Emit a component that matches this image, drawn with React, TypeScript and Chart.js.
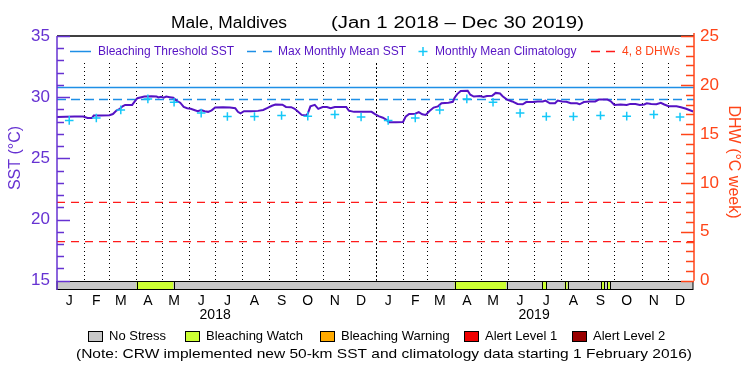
import React, { useEffect, useRef } from "react";
import { Chart, registerables } from "chart.js";

Chart.register(...registerables);

// ---------------- DATA ----------------
const monthLetters = ["J", "F", "M", "A", "M", "J", "J", "A", "S", "O", "N", "D"];
const years = [2018, 2019];
// Monthly mean climatology (°C), Jan..Dec
const climatology = [28.1, 28.3, 28.96, 29.86, 29.58, 28.7, 28.42, 28.42, 28.5, 28.45, 28.58, 28.38];
// Days since Jan 1 2018 and SST (°C)
const sstDays = [
  0, 10, 20, 30, 35, 40, 42, 50, 60, 64, 68, 72, 75, 78, 86, 89, 92, 100, 108, 114,
  116, 119, 122, 125, 129, 133, 137, 141, 145, 149, 153, 157, 161, 165, 169, 173, 177, 181, 190, 198,
  204, 207, 210, 214, 222, 230, 236, 241, 246, 250, 258, 262, 268, 272, 276, 280, 285, 287, 290, 295,
  299, 304, 309, 313, 318, 325, 331, 334, 340, 350, 360, 364, 368, 373, 377, 380, 388, 396, 399, 403,
  410, 414, 418, 422, 426, 431, 436, 440, 448, 453, 455, 458, 462, 470, 473, 477, 484, 488, 492, 498,
  502, 507, 510, 515, 521, 527, 533, 537, 545, 550, 556, 559, 564, 570, 573, 578, 583, 588, 595, 598,
  603, 609, 616, 620, 630, 634, 638, 645, 652, 656, 662, 667, 672, 675, 680, 686, 691, 695, 700, 709,
  714, 720, 728,
];
const sstValues = [
  28.38, 28.4, 28.42, 28.42, 28.3, 28.3, 28.5, 28.5, 28.52, 28.62, 28.9, 29.05, 29.25, 29.37, 29.37, 29.65, 29.92, 30.05, 30.07, 30.05,
  29.98, 30.04, 29.96, 30.05, 30.0, 29.95, 29.7, 29.55, 29.2, 29.1, 29.05, 28.95, 28.85, 28.95, 28.85, 28.8, 28.92, 29.15, 29.18, 29.15,
  29.1, 28.8, 28.68, 28.85, 28.85, 28.88, 28.95, 29.12, 29.3, 29.4, 29.38, 29.2, 29.18, 29.05, 28.8, 28.55, 28.5, 28.65, 29.25, 29.37,
  29.05, 29.2, 29.2, 29.1, 29.2, 29.2, 29.2, 28.9, 28.8, 28.8, 28.8, 28.62, 28.45, 28.32, 28.15, 27.95, 27.95, 27.97, 28.4, 28.62,
  28.65, 28.78, 28.6, 28.55, 28.85, 29.15, 29.25, 29.5, 29.55, 29.62, 29.95, 30.25, 30.5, 30.52, 30.2, 30.05, 30.1, 30.02, 30.1, 30.12,
  30.35, 30.3, 30.08, 29.8, 29.65, 29.45, 29.42, 29.6, 29.6, 29.65, 29.65, 29.72, 29.5, 29.5, 29.72, 29.65, 29.62, 29.5, 29.5, 29.42,
  29.6, 29.65, 29.65, 29.8, 29.8, 29.65, 29.37, 29.4, 29.37, 29.45, 29.45, 29.37, 29.4, 29.5, 29.45, 29.43, 29.54, 29.4, 29.26, 29.26,
  29.18, 29.05, 28.83,
];
const thresholdSST = 30.8;
const mmmSST = 29.8;
const dhwLevels = [4, 8];
// Bleaching Watch periods (days since Jan 1 2018)
const watchStarts = [91, 455, 555, 581, 623, 630];
const watchEnds = [133, 514, 560, 584, 627, 633];
const sstTicks = [15, 20, 25, 30, 35];
const dhwTicks = [0, 5, 10, 15, 20, 25];
const stressLabels = ["No Stress", "Bleaching Watch", "Bleaching Warning", "Alert Level 1", "Alert Level 2"];
const titleText = "Male, Maldives";
const dateRangeText = "(Jan 1 2018 \u2013 Dec 30 2019)";
const noteText = "(Note: CRW implemented new 50-km SST and climatology data starting 1 February 2016)";

// ---------------- STYLE ----------------
const PURPLE = "#5512c4";
const AXIS_PURPLE = "#6632d2";
const ORANGE = "#ff4418";
const BLUE = "#1e8fe6";
const CYAN = "#14c8f8";
const RED = "#ff1a1a";
const stressColors = ["#c8c8c8", "#ccff33", "#ffaa00", "#ee0000", "#990000"];
const FONT = "'Liberation Sans', Arial, sans-serif";

const START = Date.UTC(2018, 0, 1);
const dayOf = (y: number, m: number, d: number) => Math.round((Date.UTC(y, m, d) - START) / 86400000);
const X_MAX = 729;
const monthStarts: number[] = [];
const monthMids: number[] = [];
years.forEach((yr) => {
  for (let m = 0; m < 12; m++) {
    monthStarts.push(dayOf(yr, m, 1));
    monthMids.push(dayOf(yr, m, 15));
  }
});
const yearStarts = years.map((yr) => dayOf(yr, 0, 1));
const yearMids = years.map((yr) => dayOf(yr, 6, 1));

// draws text stretched horizontally to a given width (left aligned at x)
function fitText(ctx: CanvasRenderingContext2D, text: string, x: number, y: number, width: number) {
  const w = ctx.measureText(text).width;
  const k = width / w;
  ctx.save();
  ctx.textAlign = "left";
  ctx.translate(x, y);
  ctx.scale(k, 1);
  ctx.fillText(text, 0, 0);
  ctx.restore();
}

const decorPlugin = {
  id: "decor",
  beforeDatasetsDraw(chart: any) {
    const { ctx, scales } = chart;
    const x = scales.x;
    const y = scales.y;
    const barTop = y.getPixelForValue(15);
    ctx.save();
    ctx.strokeStyle = "#000";
    for (const d of monthStarts) {
      if (d <= 0) continue;
      const px = Math.round(x.getPixelForValue(d)) + 0.5;
      const isYear = yearStarts.includes(d);
      ctx.setLineDash(isYear ? [2, 2] : [1, 3]);
      ctx.lineWidth = 1;
      ctx.beginPath();
      ctx.moveTo(px, 63);
      ctx.lineTo(px, barTop);
      ctx.stroke();
    }
    ctx.restore();
  },
  afterDraw(chart: any) {
    const { ctx, chartArea: a, scales } = chart;
    const x = scales.x;
    const y = scales.y;
    const y2 = scales.y2;
    ctx.save();
    // stress bar
    const barTop = Math.round(y.getPixelForValue(15)) + 0.5;
    const barBot = a.bottom - 0.5;
    const x0 = x.getPixelForValue(0);
    const x1 = x.getPixelForValue(X_MAX) - 1;
    ctx.fillStyle = stressColors[0];
    ctx.fillRect(x0, barTop, x1 - x0, barBot - barTop);
    ctx.lineWidth = 1;
    ctx.strokeStyle = "#000";
    for (let i = 0; i < watchStarts.length; i++) {
      const s = x.getPixelForValue(watchStarts[i]);
      const e = x.getPixelForValue(watchEnds[i]);
      ctx.fillStyle = stressColors[1];
      ctx.fillRect(s, barTop, e - s, barBot - barTop);
      ctx.strokeRect(Math.round(s) + 0.5, barTop, Math.round(e - s), barBot - barTop);
    }
    ctx.strokeRect(x0, barTop, x1 - x0, barBot - barTop);

    // top border
    ctx.strokeStyle = "#000";
    ctx.lineWidth = 1.5;
    ctx.beginPath();
    ctx.moveTo(a.left, a.top);
    ctx.lineTo(a.right, a.top);
    ctx.stroke();

    // left axis line + inward ticks
    ctx.strokeStyle = AXIS_PURPLE;
    ctx.lineWidth = 1.5;
    ctx.beginPath();
    ctx.moveTo(a.left, a.top);
    ctx.lineTo(a.left, a.bottom);
    ctx.stroke();
    for (let v = 15; v <= 35; v++) {
      const py = Math.round(y.getPixelForValue(v)) + 0.5;
      const len = v % 5 === 0 ? 13 : 7;
      ctx.beginPath();
      ctx.moveTo(a.left, py);
      ctx.lineTo(a.left + len, py);
      ctx.stroke();
    }
    // right axis line + inward ticks
    ctx.strokeStyle = ORANGE;
    ctx.beginPath();
    ctx.moveTo(a.right, a.top - 3);
    ctx.lineTo(a.right, y2.getPixelForValue(0));
    ctx.stroke();
    for (let v = 0; v <= 25; v++) {
      const py = Math.round(y2.getPixelForValue(v)) + 0.5;
      const len = v % 5 === 0 ? 13 : 8;
      ctx.beginPath();
      ctx.moveTo(a.right, py);
      ctx.lineTo(a.right - len, py);
      ctx.stroke();
    }

    // title
    ctx.fillStyle = "#000";
    ctx.textBaseline = "middle";
    ctx.textAlign = "left";
    ctx.font = `16px ${FONT}`;
    fitText(ctx, titleText, 171, 24, 116);
    fitText(ctx, dateRangeText, 331, 24, 253);

    // top legend
    const ly = 51.5;
    ctx.font = `12px ${FONT}`;
    ctx.lineWidth = 1.5;
    ctx.strokeStyle = BLUE;
    ctx.setLineDash([]);
    ctx.beginPath();
    ctx.moveTo(70, ly);
    ctx.lineTo(91, ly);
    ctx.stroke();
    ctx.fillStyle = PURPLE;
    ctx.fillText("Bleaching Threshold SST", 98, ly);
    ctx.beginPath();
    ctx.moveTo(247, ly); ctx.lineTo(256, ly);
    ctx.moveTo(263, ly); ctx.lineTo(272, ly);
    ctx.stroke();
    ctx.fillText("Max Monthly Mean SST", 278, ly);
    ctx.strokeStyle = CYAN;
    ctx.beginPath();
    ctx.moveTo(418.5, ly); ctx.lineTo(427.5, ly);
    ctx.moveTo(423, ly - 4.5); ctx.lineTo(423, ly + 4.5);
    ctx.stroke();
    ctx.fillText("Monthly Mean Climatology", 435, ly);
    ctx.strokeStyle = RED;
    ctx.beginPath();
    ctx.moveTo(591, ly); ctx.lineTo(600, ly);
    ctx.moveTo(606, ly); ctx.lineTo(615, ly);
    ctx.stroke();
    ctx.fillStyle = ORANGE;
    ctx.fillText("4, 8 DHWs", 622, ly);

    // axis titles
    ctx.font = `16px ${FONT}`;
    ctx.textAlign = "center";
    ctx.fillStyle = AXIS_PURPLE;
    ctx.save();
    ctx.translate(16, 158);
    ctx.rotate(-Math.PI / 2);
    ctx.fillText("SST (\u00B0C)", 0, 0);
    ctx.restore();
    ctx.fillStyle = ORANGE;
    ctx.save();
    ctx.translate(733, 162);
    ctx.rotate(Math.PI / 2);
    ctx.fillText("DHW (\u00B0C week)", 0, 0);
    ctx.restore();

    // year labels
    ctx.fillStyle = "#000";
    ctx.font = `14px ${FONT}`;
    years.forEach((yr, i) => {
      ctx.fillText(String(yr), x.getPixelForValue(yearMids[i]), 315);
    });

    // bottom legend
    const boxX = [88, 185, 320, 464, 572];
    ctx.textAlign = "left";
    ctx.font = `13px ${FONT}`;
    ctx.lineWidth = 1;
    ctx.strokeStyle = "#000";
    stressLabels.forEach((lab, i) => {
      ctx.fillStyle = stressColors[i];
      ctx.fillRect(boxX[i] + 0.5, 331.5, 14, 10);
      ctx.strokeRect(boxX[i] + 0.5, 331.5, 14, 10);
      ctx.fillStyle = "#000";
      ctx.fillText(lab, boxX[i] + 21, 336.5);
    });
    ctx.font = `13px ${FONT}`;
    fitText(ctx, noteText, 76, 354, 616);
    ctx.restore();
  },
};

export default function App() {
  const ref = useRef<HTMLCanvasElement | null>(null);
  useEffect(() => {
    if (!ref.current) return;
    Chart.defaults.font.family = FONT;
    const sstData = sstDays.map((d, i) => ({ x: d, y: sstValues[i] }));
    const climData: { x: number; y: number }[] = [];
    years.forEach((_, yi) => {
      climatology.forEach((v, m) => climData.push({ x: monthMids[yi * 12 + m], y: v }));
    });
    const hLine = (v: number) => [
      { x: 0, y: v },
      { x: X_MAX, y: v },
    ];
    const chart = new Chart(ref.current, {
      type: "line",
      data: {
        datasets: [
          {
            label: "Monthly Mean Climatology",
            data: climData,
            yAxisID: "y",
            showLine: false,
            pointStyle: "cross",
            pointRadius: 4.3,
            pointBorderColor: CYAN,
            pointBorderWidth: 1.5,
            borderColor: CYAN,
            order: 0,
          },
          {
            label: "SST",
            data: sstData,
            yAxisID: "y",
            borderColor: PURPLE,
            borderWidth: 2,
            pointRadius: 0,
            tension: 0,
            order: 1,
          },
          {
            label: "Bleaching Threshold SST",
            data: hLine(thresholdSST),
            yAxisID: "y",
            borderColor: BLUE,
            borderWidth: 1.5,
            pointRadius: 0,
            order: 2,
          },
          {
            label: "Max Monthly Mean SST",
            data: hLine(mmmSST),
            yAxisID: "y",
            borderColor: BLUE,
            borderWidth: 1.5,
            borderDash: [9, 5],
            pointRadius: 0,
            order: 3,
          },
          ...dhwLevels.map((lv, i) => ({
            label: `${lv} DHW`,
            data: hLine(lv),
            yAxisID: "y2",
            borderColor: RED,
            borderWidth: 1.2,
            borderDash: [8, 6],
            pointRadius: 0,
            order: 4 + i,
          })),
        ],
      },
      options: {
        animation: false,
        responsive: false,
        events: [],
        layout: { padding: { top: 36, left: 0, right: 0, bottom: 0 } },
        plugins: { legend: { display: false }, tooltip: { enabled: false }, title: { display: false } },
        scales: {
          x: {
            type: "linear",
            min: 0,
            max: X_MAX,
            grid: { display: false, drawTicks: false },
            border: { display: false },
            afterBuildTicks: (s: any) => {
              s.ticks = monthMids.map((v) => ({ value: v }));
            },
            afterFit: (s: any) => {
              s.height = 85;
            },
            ticks: {
              autoSkip: false,
              maxRotation: 0,
              minRotation: 0,
              padding: 3,
              color: "#000",
              font: { size: 14, family: FONT },
              callback: (_v: any, i: number) => monthLetters[i % 12],
            },
          },
          y: {
            type: "linear",
            position: "left",
            min: 14.24,
            max: 35,
            grid: { display: false, drawTicks: false },
            border: { display: false },
            afterBuildTicks: (s: any) => {
              s.ticks = sstTicks.map((v) => ({ value: v }));
            },
            afterFit: (s: any) => {
              s.width = 57;
            },
            ticks: { padding: 7, color: AXIS_PURPLE, font: { size: 17, family: FONT } },
          },
          y2: {
            type: "linear",
            position: "right",
            min: -0.95,
            max: 25,
            grid: { display: false, drawTicks: false },
            border: { display: false },
            afterBuildTicks: (s: any) => {
              s.ticks = dhwTicks.map((v) => ({ value: v }));
            },
            afterFit: (s: any) => {
              s.width = 56;
            },
            ticks: { padding: 6, color: ORANGE, font: { size: 17, family: FONT } },
          },
        },
      },
      plugins: [decorPlugin],
    } as any);
    return () => chart.destroy();
  }, []);
  return (
    <div style={{ position: "absolute", left: 0, top: 0, width: 750, height: 375, background: "#fff" }}>
      <canvas ref={ref} width={750} height={375} style={{ width: 750, height: 375, display: "block" }} />
    </div>
  );
}
